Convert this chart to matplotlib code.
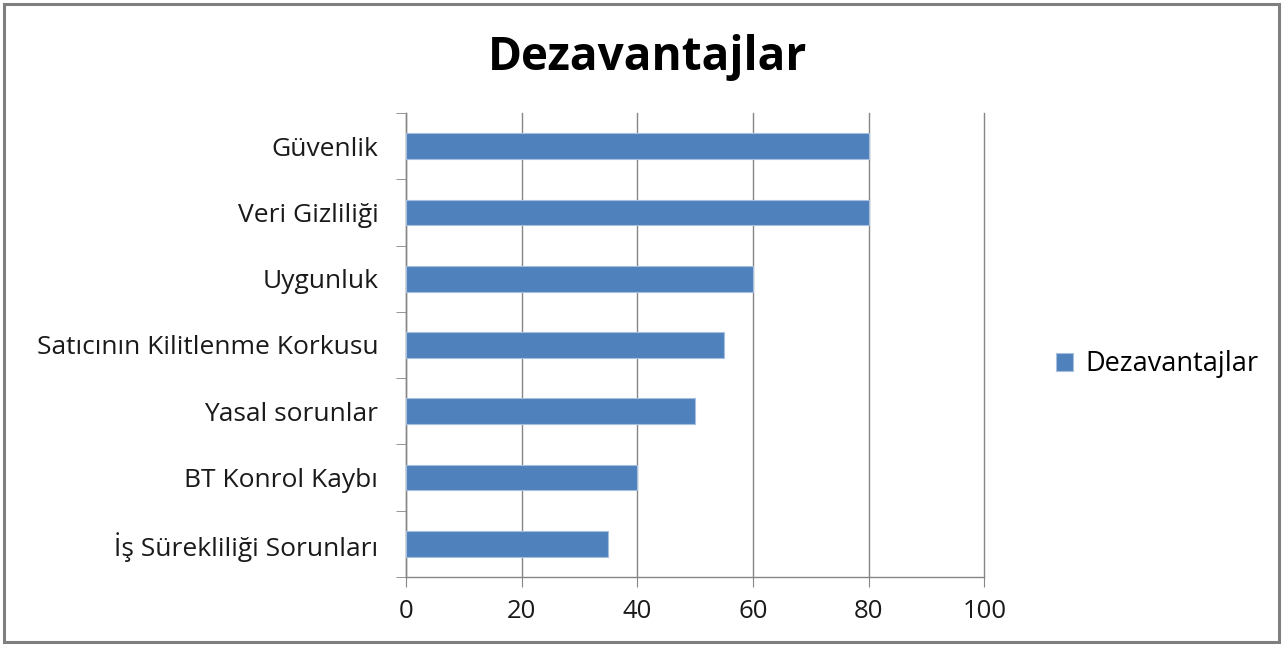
import matplotlib.pyplot as plt
from matplotlib.patches import Rectangle

plt.rcParams['font.family'] = ['Open Sans', 'DejaVu Sans']

categories = ['İş Sürekliliği Sorunları', 'BT Konrol Kaybı', 'Yasal sorunlar',
              'Satıcının Kilitlenme Korkusu', 'Uygunluk', 'Veri Gizliliği', 'Güvenlik']
values = [35, 40, 50, 55, 60, 80, 80]
xticks = [0, 20, 40, 60, 80, 100]

bar_color = '#4f81bd'
axis_color = '#868686'

fig = plt.figure(figsize=(12.85, 6.46), dpi=100)
ax = fig.add_axes([0.316, 0.107, 0.45, 0.718])

ypos = list(range(len(categories)))
ax.barh(ypos, values, height=0.39, color=bar_color, edgecolor='#a7bfde',
        linewidth=0.8, label='Dezavantajlar', zorder=3)

ax.set_xlim(0, 100)
ax.set_ylim(-0.5, len(categories) - 0.5)
ax.set_xticks(xticks)
ax.set_xticklabels([str(t) for t in xticks], fontsize=18.5)
ax.set_yticks(ypos)
ax.set_yticklabels(categories, fontsize=19, color='#1a1a1a')
ax.tick_params(axis='y', length=0, pad=20)
ax.tick_params(axis='x', length=7, color=axis_color, pad=9, labelcolor='#1a1a1a')

# category boundary ticks on the y axis
ax.set_yticks([y - 0.5 for y in range(len(categories) + 1)], minor=True)
ax.tick_params(axis='y', which='minor', length=7, color=axis_color)

ax.grid(axis='x', color=axis_color, linewidth=1.0, zorder=0)
for gl in ax.get_xgridlines():
    gl.set_clip_on(False)
for side in ['top', 'right']:
    ax.spines[side].set_visible(False)
for side in ['left', 'bottom']:
    ax.spines[side].set_color(axis_color)
    ax.spines[side].set_linewidth(1.0)

fig.suptitle('Dezavantajlar', fontsize=33, fontweight='bold', y=0.947, x=0.504)

fig.legend(loc='center left', bbox_to_anchor=(0.803, 0.436), frameon=False,
           fontsize=19.5, handlelength=0.62, handleheight=0.62, handletextpad=0.45)

fig.patches.append(Rectangle((0.003, 0.006), 0.992, 0.988, transform=fig.transFigure,
                             fill=False, edgecolor='#7f7f7f', linewidth=2.2))

fig.savefig('out.png', dpi=100)
